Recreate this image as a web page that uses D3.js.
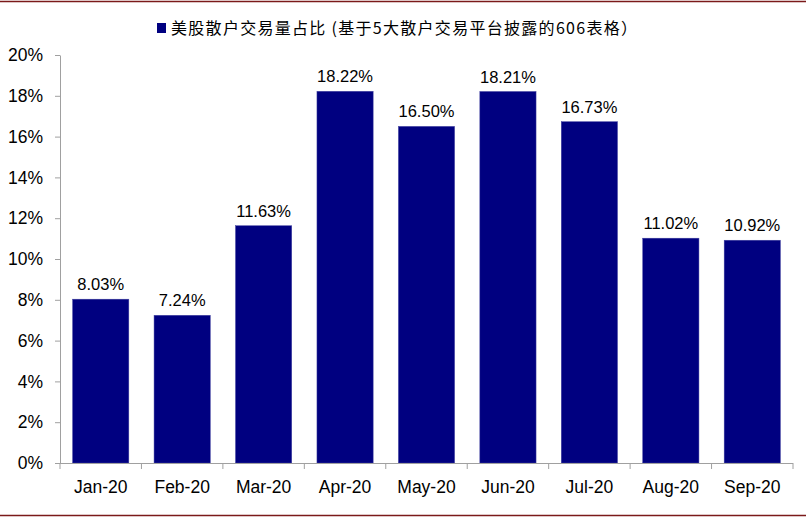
<!DOCTYPE html>
<html>
<head>
<meta charset="utf-8">
<style>
body { margin: 0; background: #fff; }
svg { display: block; font-family: "Liberation Sans", Arial, sans-serif; }
.axis path, .axis line { stroke: #a0a0a0; }
.axis text { font-size: 17.5px; fill: #000; }
</style>
<title>US retail trading share</title>
</head>
<body>
<svg width="806" height="518"></svg>
<script src="https://d3js.org/d3.v7.min.js"></script>
<script>
// values
var months = ["Jan-20", "Feb-20", "Mar-20", "Apr-20", "May-20", "Jun-20", "Jul-20", "Aug-20", "Sep-20"];
var shares = [8.03, 7.24, 11.63, 18.22, 16.50, 18.21, 16.73, 11.02, 10.92];
var yTicks = [0, 2, 4, 6, 8, 10, 12, 14, 16, 18, 20];
var legendLabel = "美股散户交易量占比 (基于5大散户交易平台披露的606表格）";

var svg = d3.select("svg"),
    width = +svg.attr("width"),
    height = +svg.attr("height");

var plotL = 60, plotR = 793, plotT = 55, plotB = 463;

// frame lines top and bottom
svg.append("line").attr("x1", 0).attr("x2", width).attr("y1", 1.5).attr("y2", 1.5)
    .attr("stroke", "#7b1a1a").attr("stroke-width", 1.5);
svg.append("line").attr("x1", 0).attr("x2", width).attr("y1", 515.5).attr("y2", 515.5)
    .attr("stroke", "#7b1a1a").attr("stroke-width", 1.5);

var x = d3.scaleBand()
    .domain(months)
    .range([plotL, plotR])
    .paddingInner(0.31)
    .paddingOuter(0.155);

var y = d3.scaleLinear()
    .domain([0, 20])
    .range([plotB, plotT]);

// bars
svg.append("g")
  .selectAll("rect")
    .data(shares)
  .enter().append("rect")
    .attr("x", function(d, i) { return x(months[i]); })
    .attr("y", function(d) { return y(d); })
    .attr("width", x.bandwidth())
    .attr("height", function(d) { return y(0) - y(d); })
    .attr("fill", "#000080")
    .attr("stroke", "#4040a0")
    .attr("stroke-width", 0.5);

// value labels
svg.append("g")
  .selectAll("text")
    .data(shares)
  .enter().append("text")
    .attr("x", function(d, i) { return x(months[i]) + x.bandwidth() / 2; })
    .attr("y", function(d) { return y(d) - 9; })
    .attr("text-anchor", "middle")
    .attr("font-size", 16.5)
    .text(function(d) { return d.toFixed(2) + "%"; });

// y axis
svg.append("g")
    .attr("class", "axis")
    .attr("transform", "translate(" + plotL + ",0)")
    .call(d3.axisLeft(y)
        .tickValues(yTicks)
        .tickSize(5)
        .tickSizeOuter(0)
        .tickPadding(12)
        .tickFormat(function(d) { return d + "%"; }));

// x axis, ticks at category boundaries
var xg = svg.append("g")
    .attr("class", "axis")
    .attr("transform", "translate(0," + plotB + ")");
xg.append("line").attr("x1", plotL).attr("x2", plotR).attr("y1", 0.5).attr("y2", 0.5);
xg.selectAll(".bt")
    .data(d3.range(months.length + 1))
  .enter().append("line")
    .attr("class", "bt")
    .attr("x1", function(i) { return plotL + i * x.step(); })
    .attr("x2", function(i) { return plotL + i * x.step(); })
    .attr("y1", 0).attr("y2", 6);
xg.selectAll("text")
    .data(months)
  .enter().append("text")
    .attr("x", function(d) { return x(d) + x.bandwidth() / 2; })
    .attr("y", 30)
    .attr("text-anchor", "middle")
    .text(function(d) { return d; });

// legend
var lg = svg.append("g").attr("transform", "translate(157,23)");
lg.append("rect").attr("width", 9).attr("height", 10).attr("fill", "#000080");
lg.append("text")
    .attr("x", 14)
    .attr("y", 11)
    .attr("font-family", "'Noto Sans CJK SC', sans-serif")
    .attr("font-size", 16)
    .attr("textLength", 466)
    .attr("lengthAdjust", "spacing")
    .text(legendLabel);
</script>
</body>
</html>
